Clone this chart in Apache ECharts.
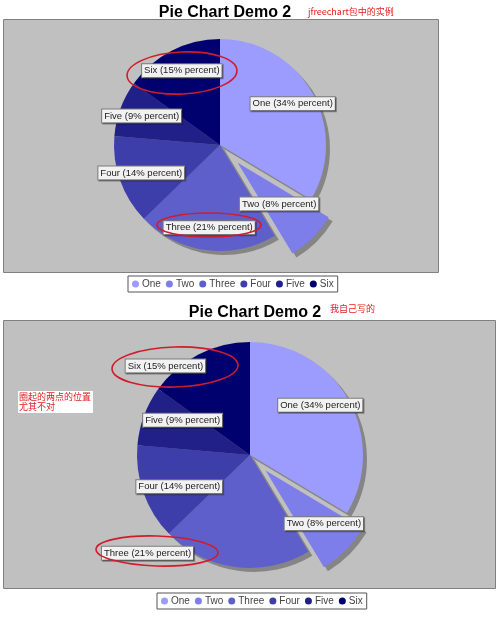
<!DOCTYPE html>
<html>
<head>
<meta charset="utf-8">
<script src="https://cdn.jsdelivr.net/npm/echarts@6/dist/echarts.min.js"></script>
<style>
body { margin: 0; background: #fff; }
#demoTop { position: absolute; left: 0; top: 0; width: 500px; height: 300px; }
#demoBottom { position: absolute; left: 0; top: 300px; width: 500px; height: 331px; }
</style>
</head>
<body>
<div id="demoTop"></div>
<div id="demoBottom"></div>
<script>
'use strict';

// PieChartDemo2 data
var names = ['One', 'Two', 'Three', 'Four', 'Five', 'Six'];
var values = [43.2, 10.0, 27.5, 17.5, 11.0, 19.4];
var exploded = ['Two'];

var colors = ['#9c9cff', '#7e7eea', '#5f5fcc', '#3e3eaa', '#202088', '#00006e'];
var total = values.reduce(function (a, b) { return a + b; }, 0);

function pct(v) {
    return Math.round(v / total * 100);
}

// 一个饼 = 主体 + 阴影 + 标签环(标签不随分离的扇区移动)
function makePie(center, r, offset, nudges) {
    function items(kind) {
        return names.map(function (n, i) {
            var it = { name: n, value: values[i] };
            if (kind !== 'label') it.selected = exploded.indexOf(n) >= 0;
            if (kind === 'main') it.itemStyle = { color: colors[i] };
            if (kind === 'label' && nudges) it.label = { offset: nudges[i] };
            return it;
        });
    }
    var common = {
        type: 'pie',
        startAngle: 90,
        clockwise: true,
        selectedMode: 'single',
        selectedOffset: offset,
        avoidLabelOverlap: false,
        silent: true,
        emphasis: { disabled: true },
        labelLine: { show: false }
    };
    var main = echarts.util.extend({
        name: 'main', center: center, radius: [0, r], z: 3,
        label: { show: false },
        data: items('main')
    }, common);
    var shadow = echarts.util.extend({
        name: 'shadow', center: [center[0] + 4, center[1] + 4], radius: [0, r], z: 2,
        itemStyle: { color: '#858585' },
        label: { show: false },
        data: items('shadow')
    }, common);
    var label = echarts.util.extend({
        name: 'label', center: center, radius: [r * 0.52, r], z: 4,
        itemStyle: { color: 'rgba(0,0,0,0)' },
        label: {
            show: true,
            position: 'inside',
            rotate: 0,
            formatter: function (p) {
                return p.name + ' (' + pct(p.value) + '% percent)';
            },
            color: '#222',
            fontSize: 9.5,
            fontFamily: 'Liberation Sans',
            backgroundColor: '#f2f2f2',
            borderColor: '#7a7a7a',
            borderWidth: 1,
            padding: [2, 2, 1, 2],
            shadowColor: 'rgba(0,0,0,0.35)',
            shadowOffsetX: 1,
            shadowOffsetY: 1
        },
        data: items('label')
    }, common);
    return [main, shadow, label];
}

function legendOf(left, top) {
    return {
        left: left,
        top: top,
        orient: 'horizontal',
        icon: 'circle',
        itemWidth: 7,
        itemHeight: 7,
        itemGap: 5,
        padding: [3, 4],
        borderColor: '#555',
        borderWidth: 1,
        selectedMode: false,
        data: names,
        textStyle: { fontSize: 10, color: '#444', fontFamily: 'Liberation Sans', padding: [0, 0, 0, -2] }
    };
}

function titleOf(x) {
    return {
        text: 'Pie Chart Demo 2',
        left: x,
        top: 0,
        textAlign: 'center',
        textStyle: { fontSize: 16, fontWeight: 'bold', color: '#000', fontFamily: 'Liberation Sans' }
    };
}

function redOval(cx, cy, rx, ry, rot) {
    return {
        type: 'ellipse', z: 100, rotation: rot || 0, x: cx, y: cy,
        shape: { cx: 0, cy: 0, rx: rx, ry: ry },
        style: { fill: null, stroke: '#d01c2c', lineWidth: 1.6 }
    };
}

/** jfreechart 包中的实例 */
var demoTop = echarts.init(document.getElementById('demoTop'));
demoTop.setOption({
    animation: false,
    title: titleOf(220),
    legend: legendOf(128, 276),
    graphic: [{
        type: 'rect', z: -1,
        shape: { x: 3.5, y: 19.5, width: 435, height: 253 },
        style: { fill: '#c0c0c0', stroke: '#808080', lineWidth: 1 }
    }, {
        type: 'text', left: 308, top: 7,
        style: { text: 'jfreechart包中的实例', fill: '#e02020', fontSize: 9, fontFamily: 'Noto Sans CJK SC' }
    },
    redOval(182, 73, 55, 21, 0.05),
    redOval(209, 225, 52, 12, 0)
    ],
    series: makePie([220, 145], 106, 25)
});

/** 我自己写的 */
var labelNudge = [[-7, -6], [11, 6], [-91, 10], [13, 2], [16, -4], [-44, -10]];

var demoBottom = echarts.init(document.getElementById('demoBottom'));
demoBottom.setOption({
    animation: false,
    title: titleOf(250),
    legend: legendOf(157, 293),
    graphic: [{
        type: 'rect', z: -1,
        shape: { x: 3.5, y: 20.5, width: 492, height: 268 },
        style: { fill: '#c0c0c0', stroke: '#808080', lineWidth: 1 }
    }, {
        type: 'text', left: 330, top: 4,
        style: { text: '我自己写的', fill: '#e02020', fontSize: 9, fontFamily: 'Noto Sans CJK SC' }
    }, {
        type: 'text', left: 18, top: 91, z: 50,
        style: {
            text: '圈起的两点的位置\n尤其不对', fill: '#e02020', fontSize: 9, lineHeight: 10,
            fontFamily: 'Noto Sans CJK SC', backgroundColor: '#fff', padding: [1, 2, 1, 1], width: 72
        }
    },
    redOval(175, 67, 63, 20, 0.03),
    redOval(157, 251, 61, 15, -0.03)
    ],
    series: makePie([250, 155], 113, 22, labelNudge)
});
</script>
</body>
</html>
